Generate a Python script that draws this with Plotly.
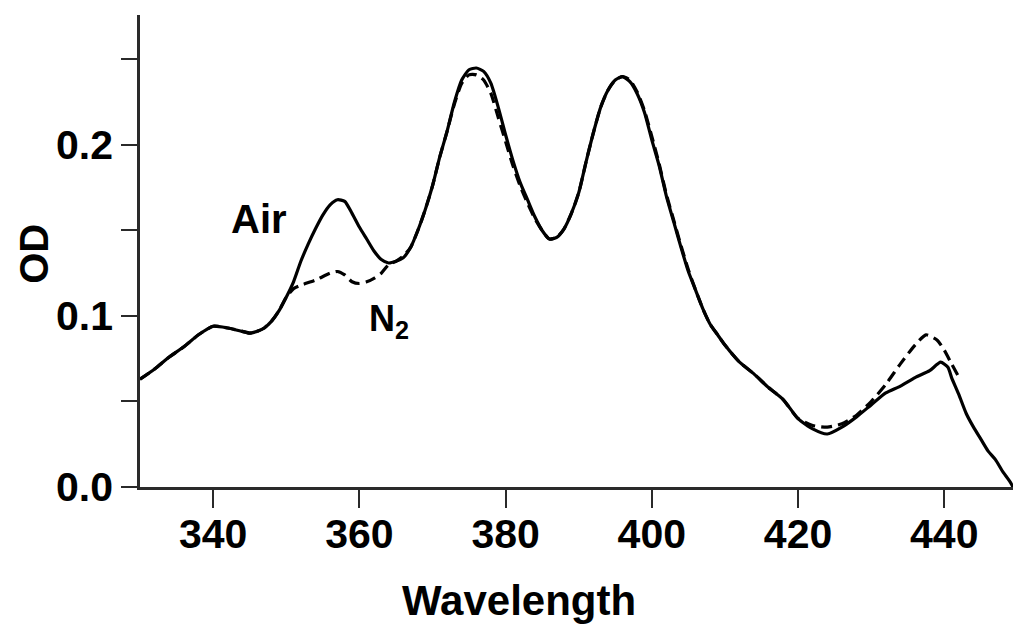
import plotly.graph_objects as go

# Air (solid)
air_x = [330, 332, 334, 336, 338, 340, 342, 344, 345, 346, 347, 348, 349, 350, 351, 352, 353, 354,
         355, 356, 357, 358, 359, 360, 361, 362, 363, 364, 365, 366, 367, 368, 369, 370, 371, 372,
         373, 374, 375, 376, 377, 378, 379, 380, 381, 382, 383, 384, 385, 386, 387, 388, 389, 390,
         391, 392, 393, 394, 395, 396, 397, 398, 399, 400, 401, 402, 403, 404, 405, 406, 407, 408,
         409, 410, 412, 414, 416, 418, 420, 422, 424, 426, 428, 430, 432, 434, 436, 438, 439.5,
         440.5, 441, 442, 443, 444, 445, 446, 447, 448, 449, 449.4]
air_y = [0.063, 0.069, 0.076, 0.082, 0.089, 0.094, 0.093, 0.091, 0.090, 0.091, 0.093, 0.097, 0.103,
         0.111, 0.120, 0.132, 0.142, 0.151, 0.159, 0.165, 0.168, 0.167, 0.160, 0.152, 0.145, 0.138,
         0.133, 0.131, 0.132, 0.134, 0.140, 0.150, 0.162, 0.176, 0.193, 0.208, 0.225, 0.238, 0.244,
         0.245, 0.243, 0.236, 0.222, 0.206, 0.191, 0.178, 0.168, 0.158, 0.150, 0.145, 0.146, 0.151,
         0.160, 0.172, 0.190, 0.207, 0.222, 0.232, 0.238, 0.240, 0.237, 0.230, 0.219, 0.203, 0.188,
         0.170, 0.155, 0.140, 0.126, 0.115, 0.104, 0.095, 0.089, 0.083, 0.073, 0.066, 0.058, 0.051,
         0.040, 0.034, 0.031, 0.035, 0.041, 0.048, 0.055, 0.059, 0.064, 0.068, 0.073, 0.070, 0.064,
         0.054, 0.043, 0.035, 0.028, 0.021, 0.016, 0.009, 0.003, 0.0]

# N2 (dashed)
n2_x = [330, 332, 334, 336, 338, 340, 342, 344, 345, 346, 347, 348, 349, 350, 351, 352, 354, 356,
        357, 358, 359, 360, 361, 362, 363, 364, 365, 366, 367, 368, 369, 370, 371, 372, 373, 374,
        375, 376, 377, 378, 379, 380, 381, 382, 383, 384, 385, 386, 387, 388, 389, 390, 391, 392,
        393, 394, 395, 396, 397, 398, 399, 400, 401, 402, 403, 404, 405, 406, 407, 408, 409, 410,
        412, 414, 416, 418, 420, 422, 424, 426, 428, 430, 432, 434, 436, 437.5, 439, 440, 441, 441.9]
n2_y = [0.063, 0.069, 0.076, 0.082, 0.089, 0.094, 0.093, 0.091, 0.090, 0.091, 0.093, 0.097, 0.103,
        0.111, 0.116, 0.118, 0.121, 0.125, 0.126, 0.124, 0.120, 0.119, 0.120, 0.122, 0.125, 0.130,
        0.132, 0.135, 0.140, 0.150, 0.162, 0.176, 0.193, 0.208, 0.224, 0.236, 0.241, 0.241, 0.238,
        0.230, 0.216, 0.202, 0.188, 0.176, 0.166, 0.157, 0.150, 0.145, 0.146, 0.151, 0.160, 0.172,
        0.190, 0.207, 0.222, 0.232, 0.238, 0.240, 0.238, 0.231, 0.220, 0.205, 0.189, 0.171, 0.156,
        0.141, 0.127, 0.115, 0.104, 0.095, 0.089, 0.083, 0.073, 0.066, 0.058, 0.051, 0.040, 0.036,
        0.035, 0.037, 0.042, 0.050, 0.060, 0.072, 0.083, 0.089, 0.086, 0.080, 0.072, 0.065]

x_ticks = [340, 360, 380, 400, 420, 440]
y_ticks = [0.0, 0.1, 0.2]
y_ticktext = ["0.0", "0.1", "0.2"]

FONT = "Liberation Sans"
AX = "#2a2a2a"

fig = go.Figure()
fig.add_trace(go.Scatter(x=air_x, y=air_y, mode="lines", name="Air",
                         line=dict(color="black", width=3.2, shape="spline", smoothing=0.6)))
fig.add_trace(go.Scatter(x=n2_x, y=n2_y, mode="lines", name="N2",
                         line=dict(color="black", width=3.2, dash="11px,6px", shape="spline", smoothing=0.6)))

fig.update_layout(
    width=1016, height=626,
    margin=dict(l=140, r=3, t=15, b=139),
    paper_bgcolor="white", plot_bgcolor="white",
    showlegend=False,
    font=dict(family=FONT, color="black"),
    xaxis=dict(range=[330, 449.4], tickvals=x_ticks, ticks="outside", ticklen=18, tickwidth=2,
               tickcolor=AX, showline=True, linecolor=AX, linewidth=2.5, showgrid=False,
               zeroline=False, automargin=False, ticklabelstandoff=-9,
               tickfont=dict(family=FONT, size=41, weight="bold", color="black")),
    yaxis=dict(range=[0, 0.276], tickvals=y_ticks, ticktext=y_ticktext, ticks="outside", ticklen=16,
               tickwidth=2, tickcolor=AX, showline=True, linecolor=AX, linewidth=2.5, showgrid=False,
               zeroline=False, automargin=False,
               minor=dict(ticks="outside", ticklen=16, tickwidth=2, tickcolor=AX, dtick=0.05,
                          tick0=0, showgrid=False),
               tickfont=dict(family=FONT, size=41, weight="bold", color="black")),
)

fig.add_annotation(text="Wavelength", xref="paper", yref="paper", x=0.4346, y=-0.2415,
                   xanchor="center", yanchor="middle", showarrow=False,
                   font=dict(family=FONT, size=42, weight="bold", color="black"))
fig.add_annotation(text="OD", xref="paper", yref="paper", x=-0.1216, y=0.4936, textangle=-90,
                   xanchor="center", yanchor="middle", showarrow=False,
                   font=dict(family=FONT, size=40, weight="bold", color="black"))
fig.add_annotation(text="Air", x=346.3, y=0.157, xanchor="center", yanchor="middle", showarrow=False,
                   font=dict(family=FONT, size=40, weight="bold", color="black"))
fig.add_annotation(text="N<sub>2</sub>", x=364.0, y=0.097, xanchor="center", yanchor="middle",
                   showarrow=False, font=dict(family=FONT, size=36, weight="bold", color="black"))

fig.write_html("out.html", config={"displayModeBar": False},
               post_script="document.body.style.margin='0';document.body.style.overflow='hidden';")
